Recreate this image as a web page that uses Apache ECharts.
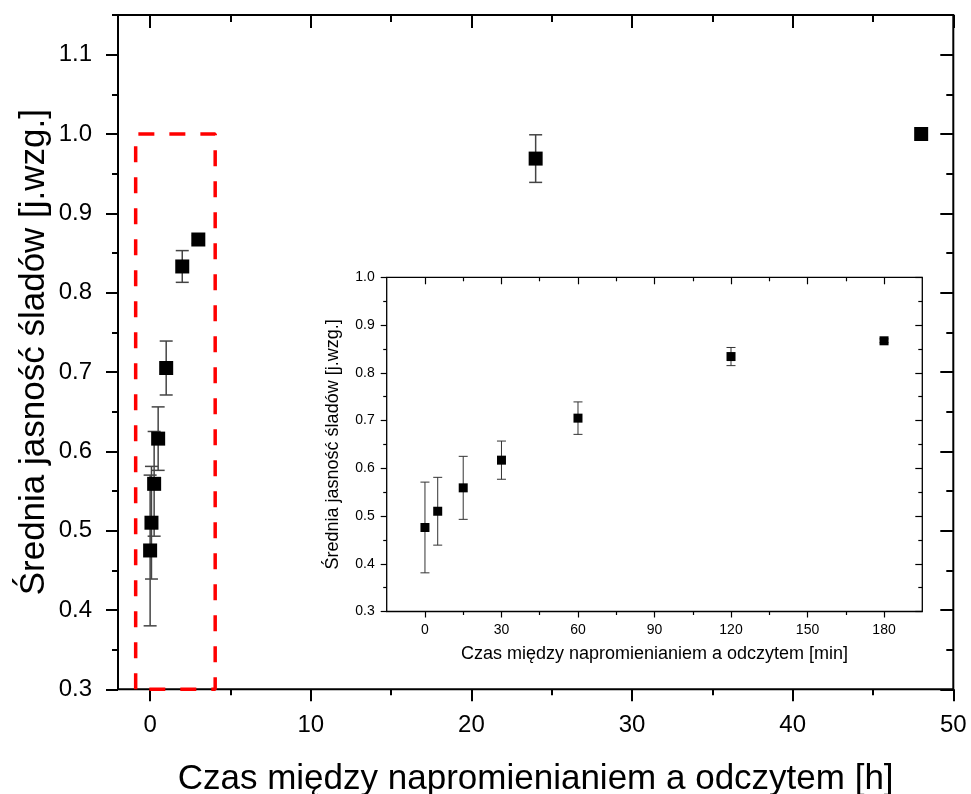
<!DOCTYPE html>
<html><head><meta charset="utf-8">
<script src="https://cdn.jsdelivr.net/npm/echarts@6/dist/echarts.min.js"></script>
<style>html,body{margin:0;padding:0;background:#fff}#c{width:971px;height:794px}</style>
</head><body><div id="c"></div>
<script>
// ---------- data ----------
const hours = [0, 0.0833, 0.25, 0.5, 1, 2, 3, 24, 48];
const brightness = [0.475, 0.510, 0.559, 0.616, 0.705, 0.833, 0.867, 0.969, 1.000];
const brightnessErr = [0.095, 0.071, 0.066, 0.040, 0.034, 0.020, 0.005, 0.030, 0];
const insetMinutes = [0, 5, 15, 30, 60, 120, 180];
const insetBrightness = [0.476, 0.510, 0.559, 0.617, 0.705, 0.834, 0.867];
const insetErr = [0.095, 0.071, 0.066, 0.040, 0.034, 0.019, 0.004];
const highlightX = [-0.9, 4.05];
const highlightY = [0.3, 1.0];
// axis ranges / ticks
const mainXRange = [-2, 50];
const mainXTicks = [0, 50, 10];      // first, last, step
const mainYRange = [0.3, 1.15];
const mainYTicks = [0.3, 1.2, 0.1];
const insetXRange = [-15, 195];
const insetXTicks = [0, 180, 30];
const insetYRange = [0.3, 1.0];
const insetYTicks = [0.3, 1.0, 0.1];
const xTitle = 'Czas między napromienianiem a odczytem [h]';
const yTitle = 'Średnia jasność śladów [j.wzg.]';
const insetXTitle = 'Czas między napromienianiem a odczytem [min]';
const insetYTitle = 'Średnia jasność śladów [j.wzg.]';

// ---------- layout ----------
const FONT = 'Liberation Sans, Arial, sans-serif';
const W = 971, H = 794;
const M = {L: 118, R: 953.3, T: 15, B: 689.3};
const I = {L: 386.7, R: 922.3, T: 277.3, B: 611.5};
function lin(r, a, b, v) { return a + (v - r[0]) / (r[1] - r[0]) * (b - a); }
function gridBox(l, r, t, b) {
  return {left: l, top: t, width: r - l, height: b - t, containLabel: false, outerBoundsMode: 'none'};
}

const mx0 = lin(mainXRange, M.L, M.R, mainXTicks[0]), mx1 = lin(mainXRange, M.L, M.R, mainXTicks[1]);
const myTop = lin(mainYRange, M.B, M.T, mainYTicks[1]), myBot = lin(mainYRange, M.B, M.T, mainYTicks[0]);
const ix0 = lin(insetXRange, I.L, I.R, insetXTicks[0]), ix1 = lin(insetXRange, I.L, I.R, insetXTicks[1]);

const grids = [
  Object.assign(gridBox(M.L, M.R, M.T, M.B), {show: true, borderColor: '#000', borderWidth: 2, backgroundColor: 'transparent'}),
  gridBox(mx0, mx1, M.T, M.B),
  gridBox(M.L, M.R, myTop, myBot),
  Object.assign(gridBox(I.L, I.R, I.T, I.B), {show: true, borderColor: '#000', borderWidth: 1.3, backgroundColor: '#fff'}),
  gridBox(ix0, ix1, I.T, I.B),
  gridBox(I.L, I.R, I.T, I.B)
];

function hiddenAxis(grid, min, max) {
  return {type: 'value', gridIndex: grid, min: min, max: max, show: false};
}
function titleAxis(grid, range, name, size, gap, pos) {
  return {type: 'value', gridIndex: grid, min: range[0], max: range[1], position: pos,
    axisLine: {show: false}, axisTick: {show: false}, axisLabel: {show: false}, splitLine: {show: false},
    name: name, nameLocation: 'middle', nameGap: gap,
    nameTextStyle: {fontFamily: FONT, fontSize: size, color: '#000'}};
}
function tickAxis(grid, ticks, pos, inside, len, minorLen, width, labelSize, margin, dec) {
  return {type: 'value', gridIndex: grid, min: ticks[0], max: ticks[1], interval: ticks[2], position: pos,
    axisLine: {show: false},
    axisTick: {show: true, inside: inside, length: len, lineStyle: {color: '#000', width: width}},
    minorTick: {show: true, splitNumber: 2, length: minorLen, lineStyle: {color: '#000', width: width}},
    axisLabel: labelSize ? {show: true, margin: margin, fontFamily: FONT, fontSize: labelSize, color: '#000',
      formatter: v => Number(v).toFixed(dec)} : {show: false},
    splitLine: {show: false}, minorSplitLine: {show: false}};
}

const xAxes = [
  titleAxis(0, mainXRange, xTitle, 35, 73, 'bottom'),
  tickAxis(1, mainXTicks, 'bottom', false, 12, 6, 2, 24, 24, 0),
  tickAxis(1, mainXTicks, 'top', true, 13, 7, 2, 0, 0, 0),
  hiddenAxis(2, 0, 1),
  titleAxis(3, insetXRange, insetXTitle, 18, 34, 'bottom'),
  tickAxis(4, insetXTicks, 'bottom', false, 6, 3.5, 1.2, 14, 12, 0),
  tickAxis(4, insetXTicks, 'top', true, 7, 4, 1.2, 0, 0, 0),
  hiddenAxis(5, 0, 1)
];
const yAxes = [
  titleAxis(0, mainYRange, yTitle, 35, 66, 'left'),
  hiddenAxis(1, 0, 1),
  tickAxis(2, mainYTicks, 'left', false, 12, 6, 2, 24, 26, 1),
  tickAxis(2, mainYTicks, 'right', true, 13, 7, 2, 0, 0, 1),
  titleAxis(3, insetYRange, insetYTitle, 18, 45, 'left'),
  hiddenAxis(4, 0, 1),
  tickAxis(5, insetYTicks, 'left', false, 6, 3.5, 1.2, 14, 12, 1),
  tickAxis(5, insetYTicks, 'right', true, 7, 4, 1.2, 0, 0, 1)
];

function errorSeries(xs, ys, es, xi, yi, cap, lw, color) {
  return {
    type: 'custom', xAxisIndex: xi, yAxisIndex: yi, z: 3, clip: false,
    data: xs.map((x, i) => [x, ys[i], es[i]]),
    renderItem: function (params, api) {
      const x = api.value(0), y = api.value(1), e = api.value(2);
      if (!e) return null;
      const t = api.coord([x, y + e]), b = api.coord([x, y - e]);
      const st = {stroke: color, lineWidth: lw};
      return {type: 'group', children: [
        {type: 'line', shape: {x1: t[0], y1: t[1], x2: b[0], y2: b[1]}, style: st},
        {type: 'line', shape: {x1: t[0] - cap, y1: t[1], x2: t[0] + cap, y2: t[1]}, style: st},
        {type: 'line', shape: {x1: b[0] - cap, y1: b[1], x2: b[0] + cap, y2: b[1]}, style: st}
      ]};
    }
  };
}

const boxPath = [[highlightX[0], highlightY[0]], [highlightX[0], highlightY[1]], [highlightX[1], highlightY[1]],
                 [highlightX[1], highlightY[0]], [highlightX[0], highlightY[0]]];

const option = {
  animation: false,
  backgroundColor: '#fff',
  grid: grids,
  xAxis: xAxes,
  yAxis: yAxes,
  series: [
    {type: 'line', xAxisIndex: 0, yAxisIndex: 0, data: boxPath, symbol: 'none', clip: false, z: 1,
      lineStyle: {color: '#ff0000', width: 3.5, type: [16, 15]}},
    errorSeries(hours, brightness, brightnessErr, 0, 0, 6.5, 1.5, '#444'),
    {type: 'scatter', xAxisIndex: 0, yAxisIndex: 0, symbol: 'rect', symbolSize: 14, z: 4,
      itemStyle: {color: '#000', opacity: 1}, data: hours.map((x, i) => [x, brightness[i]])},
    errorSeries(insetMinutes, insetBrightness, insetErr, 4, 4, 4.5, 1, '#333'),
    {type: 'scatter', xAxisIndex: 4, yAxisIndex: 4, symbol: 'rect', symbolSize: 9, z: 4,
      itemStyle: {color: '#000', opacity: 1}, data: insetMinutes.map((x, i) => [x, insetBrightness[i]])}
  ]
};
const chart = echarts.init(document.getElementById('c'), null, {renderer: 'canvas', width: W, height: H});
chart.setOption(option);
</script>
</body></html>
